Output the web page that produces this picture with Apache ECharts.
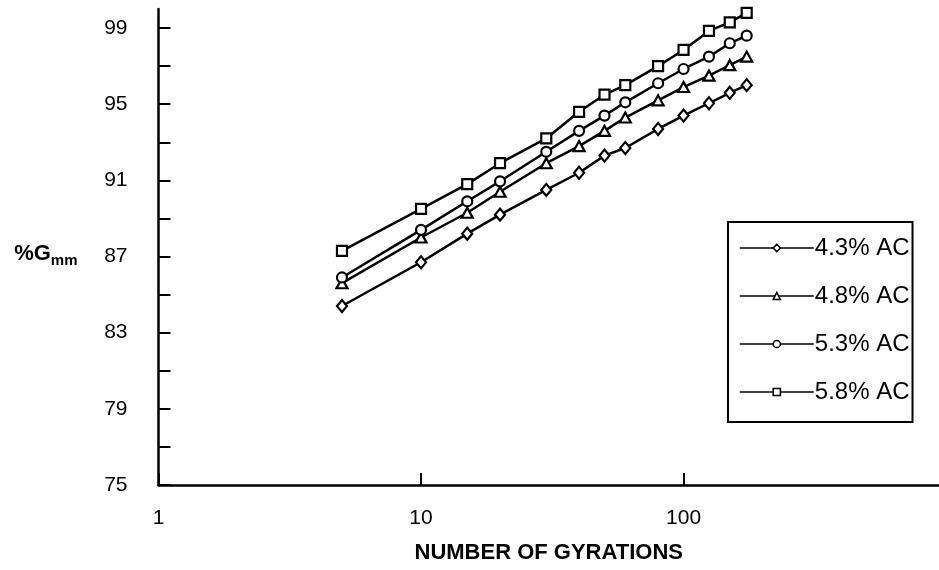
<!DOCTYPE html>
<html><head><meta charset="utf-8">
<script src="https://cdn.jsdelivr.net/npm/echarts@6/dist/echarts.min.js"></script>
<style>html,body{margin:0;padding:0;background:#fff}#c{width:939px;height:570px}</style>
</head><body><div id="c"></div>
<script>
const gyrations = [5, 10, 15, 20, 30, 40, 50, 60, 80, 100, 125, 150, 174];
const ac43 = [84.4, 86.7, 88.2, 89.2, 90.5, 91.4, 92.3, 92.7, 93.7, 94.4, 95.05, 95.6, 96.0];
const ac48 = [85.6, 88.0, 89.3, 90.4, 91.9, 92.8, 93.6, 94.3, 95.2, 95.9, 96.5, 97.05, 97.5];
const ac53 = [85.9, 88.4, 89.9, 90.95, 92.5, 93.6, 94.4, 95.1, 96.1, 96.85, 97.5, 98.2, 98.6];
const ac58 = [87.3, 89.5, 90.8, 91.9, 93.2, 94.6, 95.5, 96.0, 97.0, 97.85, 98.85, 99.3, 99.8];
const seriesNames = ['4.3% AC', '4.8% AC', '5.3% AC', '5.8% AC'];
const seriesSymbols = ['diamond', 'triangle', 'circle', 'rect'];
const xTickValues = [1, 10, 100];
const yTickValues = [75, 77, 79, 81, 83, 85, 87, 89, 91, 93, 95, 97, 99];
const yLabelValues = [75, 79, 83, 87, 91, 95, 99];

const FONT = "'Liberation Sans', Arial, Helvetica, sans-serif";
const allValues = [ac43, ac48, ac53, ac58];
const symSizes = [[10, 12], [11, 10], 10, 10];

const chart = echarts.init(document.getElementById('c'), null, {renderer: 'canvas'});
chart.setOption({
  animation: false,
  backgroundColor: '#fff',
  textStyle: {fontFamily: FONT, color: '#000'},
  grid: {left: 158.5, right: 0, top: 9, bottom: 85, containLabel: false},
  xAxis: {
    type: 'log', logBase: 10, min: 1, max: 940,
    name: 'NUMBER OF GYRATIONS', nameLocation: 'middle', nameGap: 57,
    nameTextStyle: {fontFamily: FONT, fontWeight: 'bold', fontSize: 22, color: '#000'},
    axisLine: {show: true, lineStyle: {color: '#000', width: 2.5}},
    axisTick: {show: true, inside: true, length: 12, lineStyle: {color: '#000', width: 2}, customValues: xTickValues},
    axisLabel: {fontFamily: FONT, fontSize: 21, color: '#000', margin: 23, customValues: xTickValues, formatter: v => String(v)},
    splitLine: {show: false}, minorTick: {show: false}
  },
  yAxis: {
    type: 'value', min: 75, max: 100,
    name: '{a|%G}{b|mm}', nameLocation: 'middle', nameRotate: 0, nameGap: 81,
    nameTextStyle: {
      fontFamily: FONT, color: '#000', padding: [16, 0, 0, 0],
      rich: {
        a: {fontFamily: FONT, fontWeight: 'bold', fontSize: 22, color: '#000', verticalAlign: 'top', lineHeight: 24},
        b: {fontFamily: FONT, fontWeight: 'bold', fontSize: 15, color: '#000', verticalAlign: 'top', lineHeight: 24, padding: [10, 0, 0, 0]}
      }
    },
    axisLine: {show: true, lineStyle: {color: '#000', width: 2.5}},
    axisTick: {show: true, inside: true, length: 12, lineStyle: {color: '#000', width: 2}, customValues: yTickValues},
    axisLabel: {fontFamily: FONT, fontSize: 21, color: '#000', margin: 31, customValues: yLabelValues},
    splitLine: {show: false}
  },
  legend: {
    show: true, orient: 'vertical', left: 728, top: 222,
    padding: [14, 3, 18, 11], itemGap: 24, itemWidth: 74, itemHeight: 9,
    borderColor: '#000', borderWidth: 2, backgroundColor: '#fff',
    textStyle: {fontFamily: FONT, fontSize: 24, color: '#000', padding: [0, 0, 0, -4]},
    data: seriesNames.map(n => ({name: n, itemStyle: {borderWidth: 1.5}, lineStyle: {width: 1.6}}))
  },
  series: seriesNames.map((name, k) => ({
    name: name, type: 'line',
    data: gyrations.map((g, i) => [g, allValues[k][i]]),
    symbol: seriesSymbols[k], symbolSize: symSizes[k], showSymbol: true,
    lineStyle: {color: '#000', width: 2.5},
    itemStyle: {color: '#fff', borderColor: '#000', borderWidth: 2.2},
    z: 2 + k
  }))
});
</script></body></html>
